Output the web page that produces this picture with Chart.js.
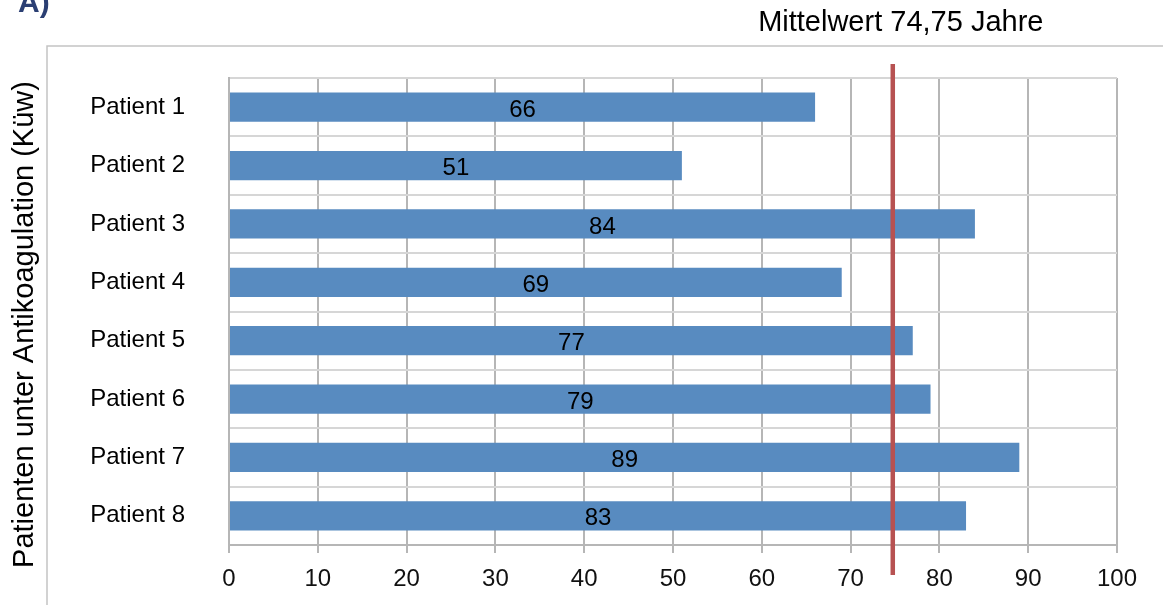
<!DOCTYPE html>
<html>
<head>
<meta charset="utf-8">
<script src="https://cdn.jsdelivr.net/npm/chart.js@4"></script>
<style>
  html, body { margin: 0; padding: 0; background: #fff; }
  #wrap { width: 1163px; height: 605px; }
</style>
</head>
<body>
<div id="wrap"><canvas id="ages" width="1163" height="605"></canvas></div>
<script>
// data
const patients = ["Patient 1", "Patient 2", "Patient 3", "Patient 4",
                  "Patient 5", "Patient 6", "Patient 7", "Patient 8"];
const ages = [66, 51, 84, 69, 77, 79, 89, 83];
const meanAge = 74.75;
const meanLabel = "Mittelwert 74,75 Jahre";
const axisTitle = "Patienten unter Antikoagulation (Küw)";
const panelLabel = "A)";

const FONT = "'Liberation Sans', Arial, sans-serif";

// values inside the bars, frame, panel label, axis title and mean line
const extras = {
  id: 'extras',
  afterDatasetsDraw(chart) {
    const ctx = chart.ctx;
    const meta = chart.getDatasetMeta(0);
    ctx.save();
    ctx.font = "24px " + FONT;
    ctx.fillStyle = "#000";
    ctx.textAlign = "center";
    ctx.textBaseline = "middle";
    meta.data.forEach((bar, i) => {
      ctx.fillText(String(ages[i]), (bar.x + bar.base) / 2, bar.y + 3);
    });
    ctx.restore();
  },
  afterDraw(chart) {
    const ctx = chart.ctx;
    const area = chart.chartArea;
    const x = chart.scales.x.getPixelForValue(meanAge);
    ctx.save();
    // frame
    ctx.strokeStyle = "#c4c4c4";
    ctx.lineWidth = 1.5;
    ctx.beginPath();
    ctx.moveTo(47, chart.height);
    ctx.lineTo(47, 46);
    ctx.lineTo(chart.width, 46);
    ctx.stroke();
    // mean line
    ctx.strokeStyle = "#b75252";
    ctx.lineWidth = 4.5;
    ctx.beginPath();
    ctx.moveTo(x, area.top - 14);
    ctx.lineTo(x, area.bottom + 30);
    ctx.stroke();
    // mean label
    ctx.fillStyle = "#000";
    ctx.font = "29px " + FONT;
    ctx.textAlign = "center";
    ctx.textBaseline = "middle";
    ctx.fillText(meanLabel, x + 8, 23);
    // axis title
    ctx.save();
    ctx.translate(25, (area.top + area.bottom) / 2 + 13);
    ctx.rotate(-Math.PI / 2);
    ctx.fillText(axisTitle, 0, 0);
    ctx.restore();
    // panel label, cut at the top edge
    ctx.fillStyle = "#2b3f73";
    ctx.font = "bold 30px " + FONT;
    ctx.textAlign = "left";
    ctx.textBaseline = "alphabetic";
    ctx.fillText(panelLabel, 18, 12);
    ctx.restore();
  }
};

new Chart(document.getElementById('ages'), {
  type: 'bar',
  data: {
    labels: patients,
    datasets: [{
      data: ages,
      backgroundColor: "#588bc0",
      borderWidth: 0,
      barPercentage: 0.5,
      categoryPercentage: 1.0
    }]
  },
  options: {
    indexAxis: 'y',
    responsive: false,
    animation: false,
    events: [],
    layout: { padding: { left: 0, top: 78, right: 46, bottom: 0 } },
    plugins: { legend: { display: false }, tooltip: { enabled: false } },
    scales: {
      x: {
        min: 0,
        max: 100,
        ticks: { stepSize: 10, padding: 12, color: "#111", font: { family: FONT, size: 24 } },
        grid: { color: "#b6b6b6", lineWidth: 2, tickLength: 8, tickColor: "#b6b6b6" },
        border: { color: "#b6b6b6", width: 2 },
        afterFit(scale) { scale.height = 60; }
      },
      y: {
        offset: true,
        ticks: { padding: 44, color: "#000", font: { family: FONT, size: 24 } },
        grid: { offset: true, color: "#d6d6d6", lineWidth: 2, drawTicks: false },
        border: { color: "#b6b6b6", width: 2 },
        afterFit(scale) { scale.width = 229; }
      }
    }
  },
  plugins: [extras]
});
</script>
</body>
</html>
